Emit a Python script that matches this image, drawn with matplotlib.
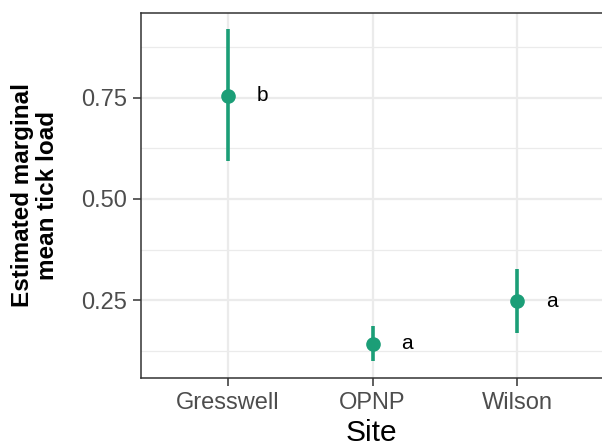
import matplotlib
matplotlib.use('Agg')
import matplotlib.pyplot as plt
from matplotlib.ticker import MultipleLocator, FormatStrFormatter

plt.rcParams['font.family'] = ['Liberation Sans', 'DejaVu Sans']

# estimated marginal means with confidence limits
sites = ['Gresswell', 'OPNP', 'Wilson']
emmean = [0.755, 0.143, 0.248]
lower = [0.593, 0.099, 0.169]
upper = [0.919, 0.186, 0.326]
groups = ['b', 'a', 'a']

green = '#1B9E77'
grid_col = '#EBEBEB'

fig = plt.figure(figsize=(6.02, 4.46), dpi=100)
ax = fig.add_axes([0.2342, 0.1525, 0.7658, 0.8184])

x = range(1, len(sites) + 1)
ax.vlines(x, lower, upper, color=green, linewidth=2.6, zorder=3)
ax.plot(x, emmean, 'o', color=green, markersize=9.5, zorder=4)
for xi, m, g in zip(x, emmean, groups):
    ax.text(xi + 0.24, m, g, fontsize=15, ha='center', va='center', color='black')

ax.set_xlim(0.4, 3.585)
ax.set_ylim(0.058, 0.959)
ax.set_xticks(list(x))
ax.set_xticklabels(sites)
ax.yaxis.set_major_locator(MultipleLocator(0.25))
ax.yaxis.set_minor_locator(MultipleLocator(0.125))
ax.yaxis.set_major_formatter(FormatStrFormatter('%.2f'))

ax.grid(which='major', color=grid_col, linewidth=1.6)
ax.grid(which='minor', axis='y', color=grid_col, linewidth=0.9)
ax.set_axisbelow(True)

for s in ax.spines.values():
    s.set_color('#333333')
    s.set_linewidth(1.1)
ax.spines['right'].set_visible(False)

ax.tick_params(axis='both', which='major', length=6, width=1.1, color='#333333',
               labelcolor='#4D4D4D', labelsize=17, pad=4)
ax.tick_params(axis='y', which='minor', length=0)

ax.set_xlabel('Site', fontsize=21.5, labelpad=4)
ax.set_ylabel('Estimated marginal\nmean tick load', fontsize=17.5,
              fontweight='bold', labelpad=16, linespacing=1.1)

fig.savefig('out.png', dpi=100)
